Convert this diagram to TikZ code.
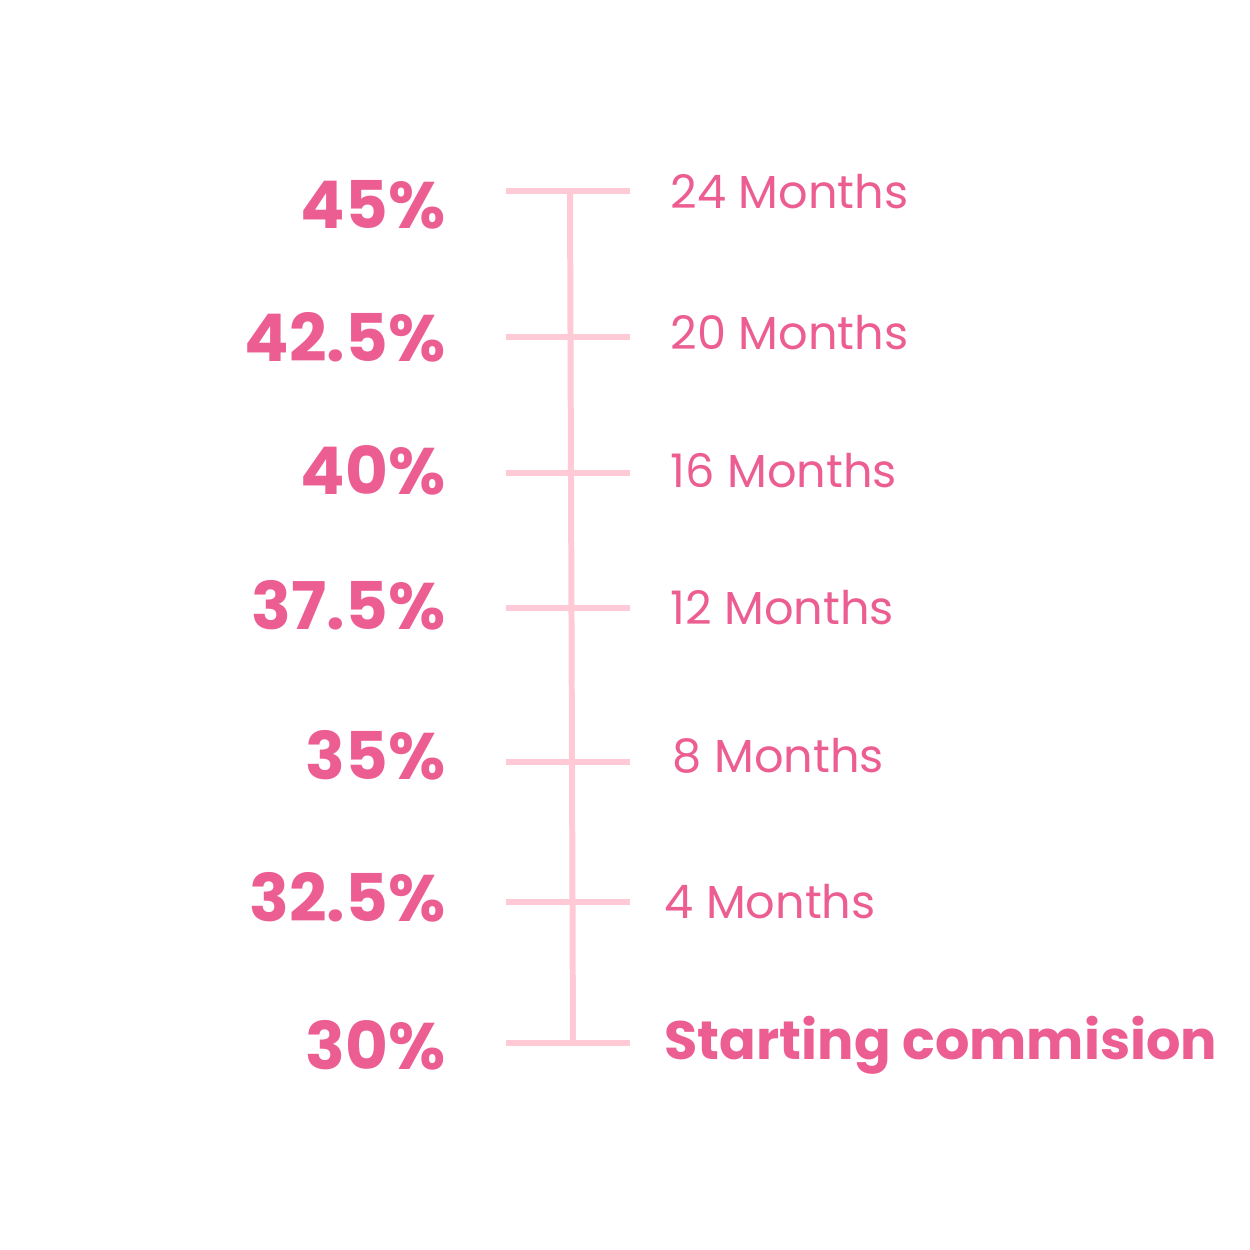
\documentclass[tikz,border=0pt]{standalone}
\usepackage{fontspec}
\setmainfont{Poppins}
\usepackage{xcolor}
\usetikzlibrary{positioning}

\definecolor{rosetext}{HTML}{EC5E92}
\definecolor{roseline}{HTML}{FFCAD6}

\begin{document}
\begin{tikzpicture}[
x=0.01cm, y=-0.01cm,
percent/.style={anchor=base east, inner sep=0pt, text=rosetext, font=\fontsize{18.7}{22}\selectfont\bfseries},
months/.style={anchor=base west, inner sep=0pt, text=rosetext, font=\fontsize{13.15}{16}\selectfont},
start/.style={anchor=base west, inner sep=0pt, text=rosetext, font=\fontsize{15.38}{18}\selectfont\bfseries},
tick/.style={draw=roseline, line width=1.7pt},
spine/.style={draw=roseline, line width=1.7pt}
]
\useasboundingbox (0,0) rectangle (1250,1250);

% percentages
\node[percent] (p45) at (446,228) {45\%};
\node[percent] (p425) at (446,361) {42.5\%};
\node[percent] (p40) at (446,494) {40\%};
\node[percent] (p375) at (446,629) {37.5\%};
\node[percent] (p35) at (446,779) {35\%};
\node[percent] (p325) at (446,921) {32.5\%};
\node[percent] (p30) at (446,1069) {30\%};

% months
\node[months] (m24) at (670,208) {24 Months};
\node[months] (m20) at (670,349) {20 Months};
\node[months] (m16) at (670,487) {16 Months};
\node[months] (m12) at (670,624) {12 Months};
\node[months] (m8) at (672,772) {8 Months};
\node[months] (m4) at (664,918) {4 Months};
\node[start] (mstart) at (664,1059) {Starting commision};

% ticks
\coordinate (a1) at (506,191); \coordinate (b1) at (630,191);
\coordinate (a2) at (506,337); \coordinate (b2) at (630,337);
\coordinate (a3) at (506,473); \coordinate (b3) at (630,473);
\coordinate (a4) at (506,608); \coordinate (b4) at (630,608);
\coordinate (a5) at (506,762); \coordinate (b5) at (630,762);
\coordinate (a6) at (506,902); \coordinate (b6) at (630,902);
\coordinate (a7) at (506,1043); \coordinate (b7) at (630,1043);
\coordinate (top) at (570,191);
\coordinate (bottom) at (573,1043);

\draw[spine] (top) -- (bottom);
\draw[tick] (a1) -- (b1);
\draw[tick] (a2) -- (b2);
\draw[tick] (a3) -- (b3);
\draw[tick] (a4) -- (b4);
\draw[tick] (a5) -- (b5);
\draw[tick] (a6) -- (b6);
\draw[tick] (a7) -- (b7);

\end{tikzpicture}
\end{document}
